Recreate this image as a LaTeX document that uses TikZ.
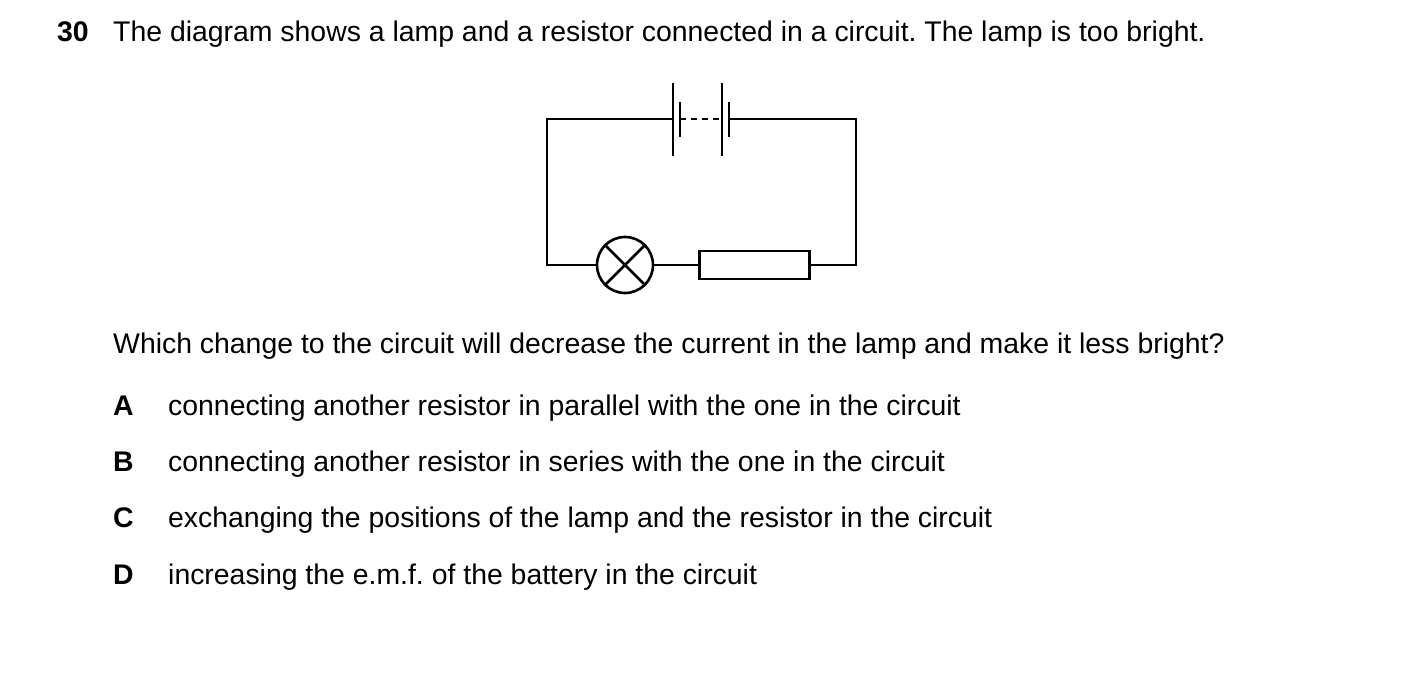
\documentclass[tikz,border=0pt]{standalone}
\usepackage{fontspec}
\setmainfont{Liberation Sans}
\begin{document}
\frenchspacing
\begin{tikzpicture}[x=1pt,y=-1pt,
  wire/.style={line width=2.6pt},
  txt/.style={anchor=base west,inner sep=0pt,font=\fontsize{28.4}{32}\selectfont},
  lbl/.style={anchor=base west,inner sep=0pt,font=\fontsize{28.4}{32}\selectfont\bfseries}]
\useasboundingbox (0,0) rectangle (1403,682);
\node[lbl] (q) at (57,42) {30};
\node[txt] (t1) at (113,42) {The diagram shows a lamp and a resistor connected in a circuit. The lamp is too bright.};
\node[txt] (t2) at (113,353) {Which change to the circuit will decrease the current in the lamp and make it less bright?};
\node[lbl] (a) at (113,415) {A};
\node[txt] (at) at (168,415) {connecting another resistor in parallel with the one in the circuit};
\node[lbl] (b) at (113,471) {B};
\node[txt] (bt) at (168,471) {connecting another resistor in series with the one in the circuit};
\node[lbl] (c) at (113,527) {C};
\node[txt] (ct) at (168,527) {exchanging the positions of the lamp and the resistor in the circuit};
\node[lbl] (d) at (113,584) {D};
\node[txt] (dt) at (168,584) {increasing the e.m.f. of the battery in the circuit};
% circuit
\coordinate (tl) at (547,119); \coordinate (tr) at (856,119);
\coordinate (bl) at (547,265); \coordinate (br) at (856,265);
\coordinate (p1) at (673,119); \coordinate (s1) at (680,119);
\coordinate (p2) at (722,119); \coordinate (s2) at (729,119);
\node[draw,circle,line width=2.6pt,minimum size=56pt,inner sep=0pt] (lamp) at (625,265) {};
\node[draw,rectangle,line width=2.6pt,minimum width=110pt,minimum height=28pt,inner sep=0pt] (res) at (754.5,265) {};
\draw[wire] (p1) -- (tl) -- (bl) -- (lamp.west);
\draw[wire] (lamp.east) -- (res.west);
\draw[wire] (res.east) -- (br) -- (tr) -- (s2);
\draw[wire] (673,83) -- (673,156);
\draw[wire] (680,102) -- (680,137);
\draw[wire] (722,83) -- (722,156);
\draw[wire] (729,102) -- (729,137);
\draw[wire,dash pattern=on 6pt off 5pt] (s1) -- (p2);
\draw[wire] (lamp.north west) -- (lamp.south east);
\draw[wire] (lamp.north east) -- (lamp.south west);
\end{tikzpicture}
\end{document}
